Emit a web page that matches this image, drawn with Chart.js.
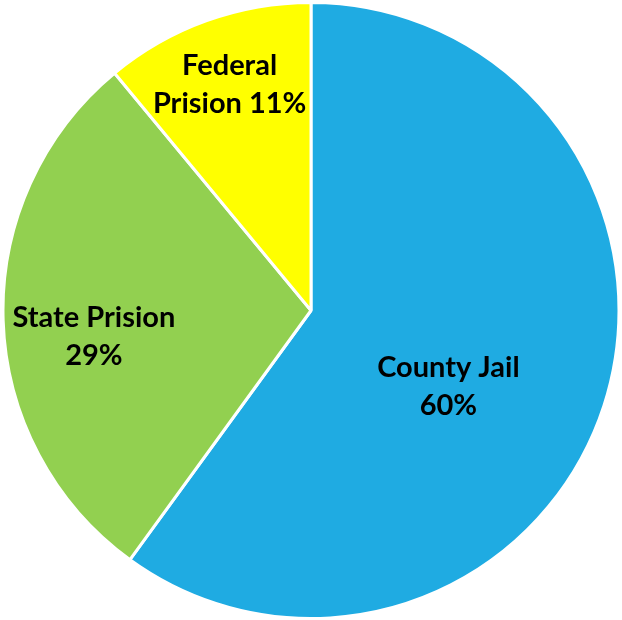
<!DOCTYPE html>
<html>
<head>
<meta charset="utf-8">
<script src="https://cdn.jsdelivr.net/npm/chart.js@4"></script>
<style>
  html, body { margin: 0; padding: 0; background: #fff; }
  #wrap { width: 622px; height: 620px; }
</style>
</head>
<body>
<div id="wrap"><canvas id="pieChart" width="622" height="620"></canvas></div>
<script>
// data
const categories = ['County Jail', 'State Prision', 'Federal Prision'];
const values = [60, 29, 11];
const colores = ['#1FABE2', '#92D050', '#FFFF00'];
// label lines, and where to put them (fraction of radius, angle tweak in degrees)
const labelLines = [['County Jail', '60%'], ['State Prision', '29%'], ['Federal', 'Prision 11%']];
const labelRadius = [0.51, 0.71, 0.78];
const labelTurn = [11, -5, 0];

const labelPlugin = {
  id: 'sliceLabels',
  afterDatasetsDraw(chart) {
    const ctx = chart.ctx;
    const meta = chart.getDatasetMeta(0);
    ctx.save();
    ctx.fillStyle = '#000';
    ctx.font = 'bold 29px Lato';
    ctx.textAlign = 'center';
    ctx.textBaseline = 'middle';
    meta.data.forEach((arc, i) => {
      const mid = (arc.startAngle + arc.endAngle) / 2 + labelTurn[i] * Math.PI / 180;
      const r = arc.outerRadius * labelRadius[i];
      const x = arc.x + Math.cos(mid) * r;
      const y = arc.y + Math.sin(mid) * r;
      const lines = labelLines[i];
      const lh = 38;
      lines.forEach((t, k) => {
        ctx.fillText(t, x, y + (k - (lines.length - 1) / 2) * lh);
      });
    });
    ctx.restore();
  }
};

const ctx = document.getElementById('pieChart').getContext('2d');
new Chart(ctx, {
  type: 'pie',
  data: {
    labels: categories,
    datasets: [{
      data: values,
      backgroundColor: colores,
      borderColor: '#ffffff',
      borderWidth: 3
    }]
  },
  options: {
    responsive: false,
    animation: false,
    layout: { padding: { top: 1, bottom: -3, left: -3, right: -3 } },
    plugins: {
      legend: { display: false },
      tooltip: { enabled: false }
    }
  },
  plugins: [labelPlugin]
});
</script>
</body>
</html>
